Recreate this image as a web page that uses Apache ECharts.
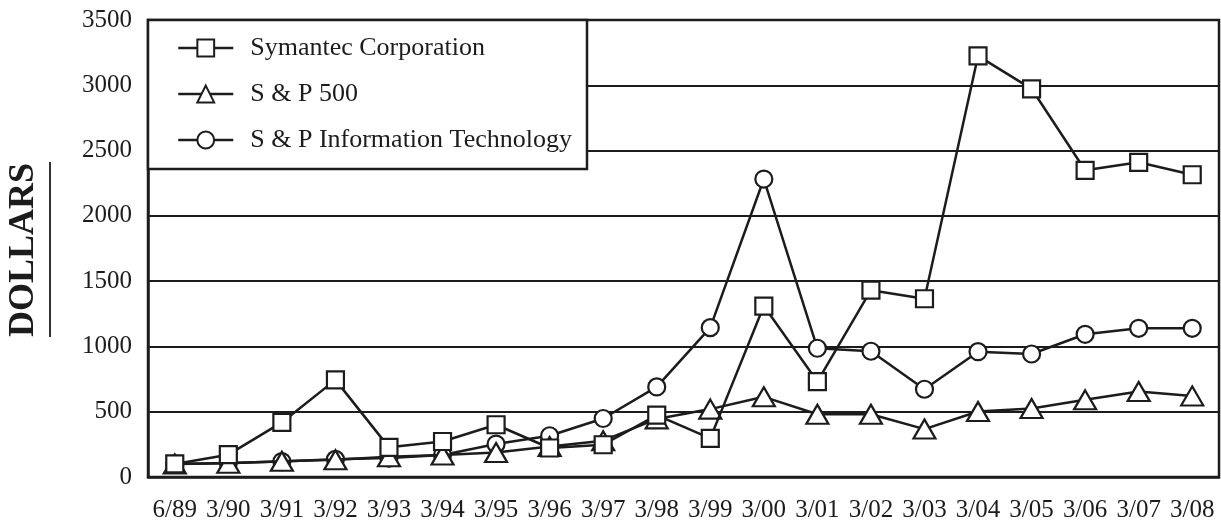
<!DOCTYPE html>
<html>
<head>
<meta charset="utf-8">
<script src="https://cdn.jsdelivr.net/npm/echarts@6/dist/echarts.min.js"></script>
<style>
html,body{margin:0;padding:0;background:#fff;}
#chart{width:1221px;height:523px;}
</style>
</head>
<body>
<div id="chart"></div>
<script>
const categories = ['6/89','3/90','3/91','3/92','3/93','3/94','3/95','3/96','3/97','3/98','3/99','3/00','3/01','3/02','3/03','3/04','3/05','3/06','3/07','3/08'];
const symantec = [100,171,418,744,227,272,400,222,247,474,296,1309,731,1431,1365,3225,2973,2349,2410,2315];
const sp500 = [100,105,120,132,155,168,188,234,278,445,520,614,481,481,367,502,525,591,655,621];
const spInfoTech = [100,108,118,135,145,168,252,316,448,690,1144,2282,986,963,672,960,942,1093,1139,1139];
const seriesNames = ['Symantec Corporation','S & P 500','S & P Information Technology'];
const yTicks = [0,500,1000,1500,2000,2500,3000,3500];
const yTitle = 'DOLLARS';

const INK = '#1c1c1c';
const FONT = '"Liberation Serif", "DejaVu Serif", serif';

const chart = echarts.init(document.getElementById('chart'), null, {renderer:'canvas'});

function mkSeries(name, data, symbol, size, z) {
  return {
    name: name, type: 'line', data: data, symbol: symbol, symbolSize: size,
    showAllSymbol: true, z: z,
    lineStyle: {color: INK, width: 2.5},
    itemStyle: {color: '#fff', borderColor: INK, borderWidth: 2.2},
    emphasis: {disabled: true},
    animation: false
  };
}

chart.setOption({
  animation: false,
  backgroundColor: '#fff',
  grid: {left: 148, right: 2, top: 20, bottom: 45, show: true, borderColor: INK, borderWidth: 2.5, backgroundColor: 'transparent'},
  xAxis: {
    type: 'category', data: categories, boundaryGap: true,
    axisLine: {lineStyle: {color: INK, width: 2.5}},
    axisTick: {alignWithLabel: true, length: 10, lineStyle: {color: INK, width: 2.5}},
    axisLabel: {color: INK, fontFamily: FONT, fontSize: 25, margin: 21, interval: 0},
    splitLine: {show: false}
  },
  yAxis: {
    type: 'value', min: yTicks[0], max: yTicks[yTicks.length-1], interval: 500,
    axisLine: {show: true, lineStyle: {color: INK, width: 2.5}},
    axisTick: {show: false},
    axisLabel: {color: INK, fontFamily: FONT, fontSize: 25, margin: 16, formatter: function (v) { return String(v); }},
    splitLine: {show: true, lineStyle: {color: INK, width: 2.2}}
  },
  legend: {
    orient: 'vertical', left: 172, top: 30, z: 30,
    data: seriesNames,
    itemWidth: 55, itemHeight: 21, itemGap: 20,
    selectedMode: false,
    lineStyle: {width: 2.5, color: INK},
    itemStyle: {borderWidth: 2, borderColor: INK, color: '#fff'},
    textStyle: {color: INK, fontFamily: FONT, fontSize: 26, padding: [0,0,0,12]}
  },
  graphic: [
    {type: 'rect', z: 20, shape: {x: 148, y: 20, width: 439, height: 149},
     style: {fill: '#fff', stroke: INK, lineWidth: 2.5}},
    {type: 'text', z: 20, x: 24, y: 250, rotation: Math.PI/2,
     style: {text: yTitle, fill: INK, font: 'bold 36px ' + FONT, textAlign: 'center', textVerticalAlign: 'middle'}},
    {type: 'line', z: 20, shape: {x1: 50, y1: 162, x2: 50, y2: 337}, style: {stroke: INK, lineWidth: 1.8}}
  ],
  series: [
    mkSeries(seriesNames[2], spInfoTech, 'circle', 17, 3),
    mkSeries(seriesNames[1], sp500, 'triangle', [22,19], 4),
    mkSeries(seriesNames[0], symantec, 'rect', 17, 5)
  ]
});
</script>
</body>
</html>
